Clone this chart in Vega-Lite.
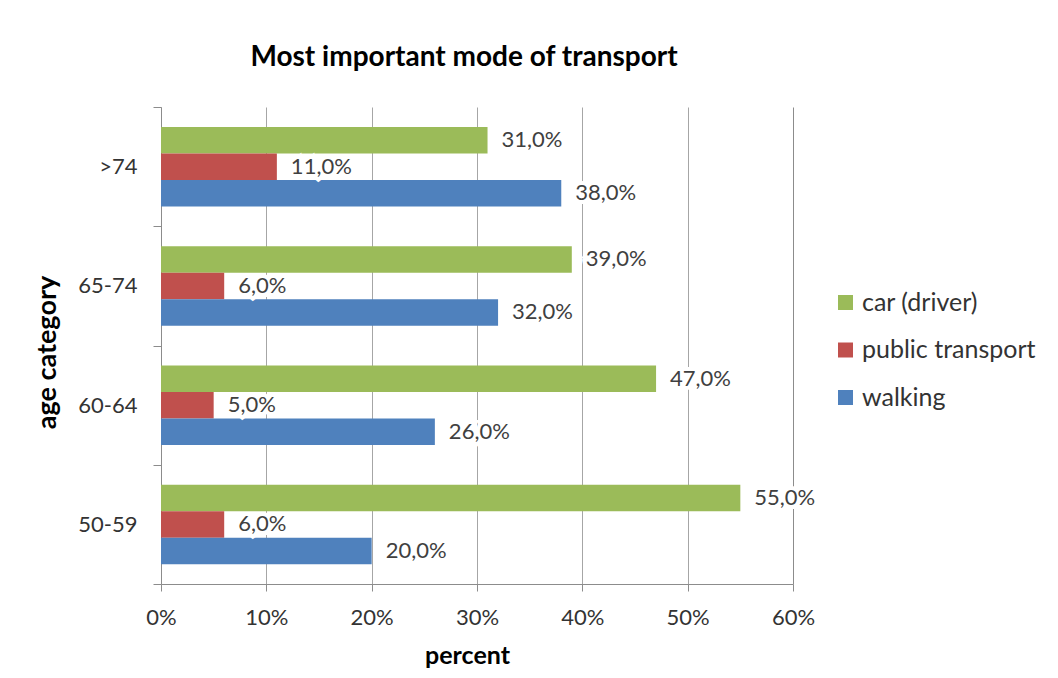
{
  "$schema": "https://vega.github.io/schema/vega-lite/v6.json",
  "width": 632,
  "height": 477,
  "autosize": {"type": "none"},
  "padding": {"left": 161, "top": 107, "right": 265, "bottom": 94},
  "background": "white",
  "config": {
    "locale": {"number": {"decimal": ",", "thousands": ".", "grouping": [3], "currency": ["", " €"]}},
    "font": "Lato",
    "view": {"stroke": null}
  },
  "title": {
    "text": "Most important mode of transport",
    "font": "Lato",
    "fontSize": 28,
    "fontWeight": "bold",
    "color": "#000000",
    "anchor": "middle",
    "baseline": "alphabetic",
    "offset": 2,
    "dx": -13
  },
  "data": {
    "values": [
      {"age": ">74", "mode": "car (driver)", "share": 0.31},
      {"age": ">74", "mode": "public transport", "share": 0.11},
      {"age": ">74", "mode": "walking", "share": 0.38},
      {"age": "65-74", "mode": "car (driver)", "share": 0.39},
      {"age": "65-74", "mode": "public transport", "share": 0.06},
      {"age": "65-74", "mode": "walking", "share": 0.32},
      {"age": "60-64", "mode": "car (driver)", "share": 0.47},
      {"age": "60-64", "mode": "public transport", "share": 0.05},
      {"age": "60-64", "mode": "walking", "share": 0.26},
      {"age": "50-59", "mode": "car (driver)", "share": 0.55},
      {"age": "50-59", "mode": "public transport", "share": 0.06},
      {"age": "50-59", "mode": "walking", "share": 0.20}
    ]
  },
  "encoding": {
    "y": {
      "field": "age",
      "type": "nominal",
      "sort": [">74", "65-74", "60-64", "50-59"],
      "scale": {"paddingInner": 0, "paddingOuter": 0},
      "axis": {
        "title": "age category",
        "titleFont": "Lato",
        "titleFontSize": 27,
        "titleFontWeight": "bold",
        "titleColor": "#000000",
        "titleX": -114,
        "titleY": 245,
        "titleAngle": -90,
        "titleAlign": "center",
        "titleBaseline": "middle",
        "labelFont": "Lato",
        "labelFontSize": 22,
        "labelColor": "#333333",
        "labelPadding": 16,
        "tickBand": "extent",
        "tickSize": 8,
        "tickColor": "#8c8c8c",
        "domainColor": "#8c8c8c",
        "grid": false
      }
    },
    "yOffset": {
      "field": "mode",
      "type": "nominal",
      "sort": ["car (driver)", "public transport", "walking"],
      "scale": {"paddingInner": 0, "paddingOuter": 0.75}
    },
    "x": {
      "field": "share",
      "type": "quantitative",
      "scale": {"domain": [0, 0.6], "nice": false},
      "axis": {
        "values": [0, 0.1, 0.2, 0.3, 0.4, 0.5, 0.6],
        "format": ".0%",
        "labelFlush": false,
        "title": "percent",
        "titleFont": "Lato",
        "titleFontSize": 25,
        "titleFontWeight": "bold",
        "titleColor": "#000000",
        "titleX": 306,
        "titleY": 71,
        "titleAlign": "center",
        "titleBaseline": "middle",
        "labelFont": "Lato",
        "labelFontSize": 22,
        "labelColor": "#333333",
        "labelPadding": 16,
        "tickSize": 7,
        "tickColor": "#8c8c8c",
        "domainColor": "#8c8c8c",
        "grid": true,
        "gridColor": {"condition": {"test": "datum.value >= 0.6", "value": "#8c8c8c"}, "value": "#a6a6a6"}
      }
    }
  },
  "layer": [
    {
      "mark": {"type": "bar"},
      "encoding": {
        "color": {
          "field": "mode",
          "type": "nominal",
          "sort": ["car (driver)", "public transport", "walking"],
          "scale": {"domain": ["car (driver)", "public transport", "walking"], "range": ["#9BBB59", "#C0504D", "#4F81BD"]},
          "legend": {
            "title": null,
            "orient": "none",
            "legendX": 672,
            "legendY": 183,
            "padding": 0,
            "symbolType": "square",
            "symbolSize": 225,
            "symbolStrokeWidth": 0,
            "labelFont": "Lato",
            "labelFontSize": 25,
            "labelLimit": 400,
            "labelColor": "#333333",
            "labelOffset": 4,
            "rowPadding": 21.5
          }
        }
      }
    },
    {
      "mark": {"type": "text", "align": "left", "baseline": "middle", "dx": 14, "font": "Lato", "fontSize": 22, "fill": "white", "stroke": "white", "strokeWidth": 8},
      "encoding": {"text": {"field": "share", "type": "quantitative", "format": ".1%"}}
    },
    {
      "mark": {"type": "text", "align": "left", "baseline": "middle", "dx": 14, "font": "Lato", "fontSize": 22, "color": "#404040"},
      "encoding": {"text": {"field": "share", "type": "quantitative", "format": ".1%"}}
    }
  ]
}
